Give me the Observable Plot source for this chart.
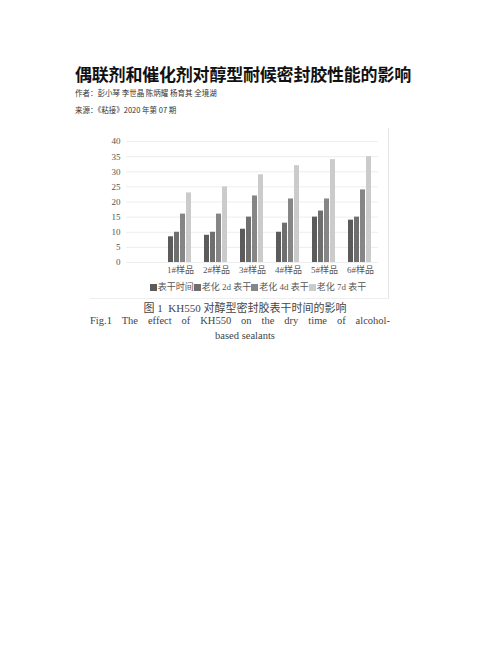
<!DOCTYPE html>
<html><head><meta charset="utf-8">
<script src="https://cdn.jsdelivr.net/npm/d3@7"></script>
<script src="https://cdn.jsdelivr.net/npm/@observablehq/plot@0.6"></script>
<style>
html,body{margin:0;padding:0;background:#fff;}
#page{position:relative;width:502px;height:649px;overflow:hidden;}
.t{position:absolute;white-space:nowrap;}
#title{left:75px;top:61px;font:bold 17px "Noto Sans CJK SC",sans-serif;color:#111;letter-spacing:-0.2px;}
#author{left:75px;top:87px;font:7.5px "Noto Sans CJK SC",sans-serif;color:#333;}
#source{left:75px;top:104px;font:7.5px "Noto Sans CJK SC",sans-serif;color:#333;}
#fig{position:absolute;left:90px;top:128px;width:298px;height:170px;border-right:1px solid #e6e6e6;border-bottom:1px solid #eeeeee;}
#chart{position:absolute;left:90px;top:130px;}
#legend{position:absolute;left:90px;top:280px;width:336px;text-align:center;font:9px "Liberation Serif","Noto Sans CJK SC",serif;color:#555;}
#legend span.sw{display:inline-block;width:7px;height:7px;margin-right:1px;vertical-align:-0.5px;}
#cap1{position:absolute;left:90px;top:299px;width:310px;text-align:center;font:11px "Liberation Serif","Noto Sans CJK SC",serif;color:#444;}
#cap2{position:absolute;left:90px;top:315px;width:300px;text-align:justify;text-align-last:justify;font:10.5px "Liberation Serif",serif;color:#444;}
#cap3{position:absolute;left:90px;top:330px;width:310px;text-align:center;font:10.5px "Liberation Serif",serif;color:#444;}
</style></head>
<body><div id="page">
<div class="t" id="title">偶联剂和催化剂对醇型耐候密封胶性能的影响</div>
<div class="t" id="author">作者：彭小琴 李世晶 陈炳耀 杨育其 全境湖</div>
<div class="t" id="source">来源：《粘接》2020 年第 07 期</div>
<div id="fig"></div>
<div id="chart"></div>
<div id="legend"></div>
<div id="cap1">图 1&nbsp; KH550 对醇型密封胶表干时间的影响</div>
<div id="cap2">Fig.1 The effect of KH550 on the dry time of alcohol-</div>
<div id="cap3">based sealants</div>
</div>
<script>
const samples = ["1#样品","2#样品","3#样品","4#样品","5#样品","6#样品"];
const seriesNames = ["表干时间","老化2d表干","老化4d表干","老化7d表干"];
const seriesColors = ["#5b5b5b","#6f6f6f","#868686","#cbcbcb"];
const dryTime   = [8.5, 9, 11, 10, 15, 14];
const aged2d    = [10, 10, 15, 13, 17, 15];
const aged4d    = [16, 16, 22, 21, 21, 24];
const aged7d    = [23, 25, 29, 32, 34, 35];
const yTicks = [0,5,10,15,20,25,30,35,40];

const seriesValues = [dryTime, aged2d, aged4d, aged7d];
const data = [];
samples.forEach((s,i)=>seriesNames.forEach((n,j)=>data.push({sample:s, series:n, value:seriesValues[j][i]})));

const fxDomain = [" ", ...samples];
const gridRows = [];
fxDomain.forEach(s=>yTicks.forEach(t=>gridRows.push({sample:s, tick:t})));

const chart = Plot.plot({
  width: 300, height: 150,
  marginLeft: 33, marginRight: 10, marginTop: 11, marginBottom: 18,
  style: {fontFamily: '"Liberation Serif","Noto Sans CJK SC",serif', fontSize: "9px", color: "#555", background: "transparent"},
  fx: {domain: fxDomain, paddingInner: 0, paddingOuter: 0, label: null, axis: null},
  x: {domain: seriesNames, paddingInner: 0.14, paddingOuter: 0.79, axis: null},
  y: {domain: [0,40], ticks: yTicks, label: null, tickSize: 0, tickPadding: 6, axis: null},
  color: {domain: seriesNames, range: seriesColors},
  marks: [
    Plot.ruleY(gridRows, {fx: "sample", y: "tick", stroke: "#e9e9e9", strokeWidth: 0.8}),
    Plot.axisY({ticks: yTicks, tickSize: 0, tickPadding: 6, label: null, fill: "#555"}),
    Plot.axisFx({domain: fxDomain, tickSize: 0, tickPadding: 4, label: null, fill: "#555", anchor: "bottom"}),
    Plot.barY(data, {fx: "sample", x: "series", y: "value", fill: "series"})
  ]
});
document.getElementById("chart").appendChild(chart);

const lg = document.getElementById("legend");
seriesNames.forEach((n,i)=>{
  const sw = document.createElement("span"); sw.className="sw"; sw.style.background = seriesColors[i];
  lg.appendChild(sw);
  lg.appendChild(document.createTextNode(n.replace(/(\d+d)/," $1 ")));
});
</script>
</body></html>
